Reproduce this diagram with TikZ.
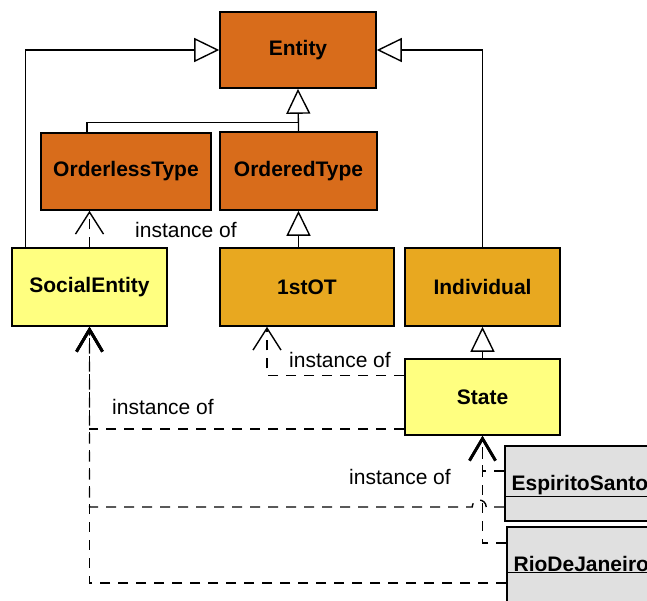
\documentclass[tikz,border=0pt]{standalone}
\usepackage{fontspec}
\setmainfont{Liberation Sans}
\usetikzlibrary{arrows.meta}
\definecolor{darkor}{HTML}{D86C1B}
\definecolor{goldor}{HTML}{E8A820}
\definecolor{paley}{HTML}{FFFF80}
\definecolor{paleg}{HTML}{E0E0E0}
\tikzset{
  box/.style={draw=black, line width=1.6pt, rectangle, inner sep=0pt, font=\fontsize{21}{25}\selectfont\bfseries},
  gen/.style={draw=black, line width=1.3pt, -{Triangle[open, length=25pt, width=24pt, fill=white, line width=1.4pt]}},
  inst/.style={draw=black, line width=1.4pt, dash pattern=on 10pt off 8pt, -{Straight Barb[length=22pt, width=28pt, line width=1.4pt]}},
  instthick/.style={inst, -{Straight Barb[length=22pt, width=26pt, line width=2.8pt]}},
  lbl/.style={font=\fontsize{21}{25}\selectfont, inner sep=0pt},
}
\begin{document}
\begin{tikzpicture}[x=1pt, y=-1pt]
\useasboundingbox (0,0) rectangle (647,600);
\clip (0,0) rectangle (647,600);
% nodes
\node[box, fill=darkor, minimum width=156pt, minimum height=76pt] (entity) at (298,50) {Entity};
\node[box, fill=darkor, minimum width=170pt, minimum height=77pt] (orderless) at (126,171.5) {OrderlessType};
\node[box, fill=darkor, minimum width=157pt, minimum height=78pt] (ordered) at (298.5,171) {OrderedType};
\node[box, fill=paley, minimum width=155pt, minimum height=78pt] (se) at (89.5,287) {SocialEntity};
\node[box, fill=goldor, minimum width=174pt, minimum height=78pt] (first) at (307,287) {1stOT};
\node[box, fill=goldor, minimum width=155pt, minimum height=78pt] (ind) at (482.5,287) {Individual};
\node[box, fill=paley, minimum width=155pt, minimum height=76pt] (state) at (482.5,397) {State};
\node[box, fill=paleg, minimum width=215pt, minimum height=75pt] (esp) at (612.5,483.5) {};
\node[box, fill=paleg, minimum width=213pt, minimum height=110pt] (rio) at (613.5,582) {};
\node[box, draw=none, anchor=base west] (esptxt) at (505,490) {\underline{\ EspiritoSanto}};
\node[box, draw=none, anchor=base west] (riotxt) at (507,571) {\underline{\ RioDeJaneiro}};
% generalizations
\draw[gen] ([xshift=14pt]se.north west) |- (entity.west);
\draw[gen] (ind.north) |- (entity.east);
\draw[gen] (ordered.north) -- (entity.south);
\draw[line width=1.3pt] ([xshift=-39pt]orderless.north) |- ([yshift=9pt]ordered.north);
\draw[gen] (first.north -| ordered.south) -- (ordered.south);
\draw[gen] (state.north) -- (ind.south);
% instance of
\draw[inst] (se.north) -- (se.north |- orderless.south);
\node[lbl] (l1) at (186,230) {instance of};
\draw[inst] ([yshift=-17pt]state.north west) -| ([xshift=-40pt]first.south);
\node[lbl] (l2) at (340,360) {instance of};
\draw[instthick] ([yshift=7pt]state.south west) -| (se.south);
\node[lbl] (l3) at (163,407) {instance of};
\draw[instthick] ([yshift=-23.5pt]esp.west) -- ++(-18,0) arc[start angle=0, end angle=180, radius=7pt] -| (se.south);
\draw[instthick] ([yshift=-1pt]rio.west) -| (se.south);
\draw[instthick] ([yshift=12.5pt]esp.west) -| (state.south);
\draw[instthick] ([yshift=39pt]rio.west) -| (state.south);
\node[lbl] (l4) at (400,477) {instance of};
\end{tikzpicture}
\end{document}
